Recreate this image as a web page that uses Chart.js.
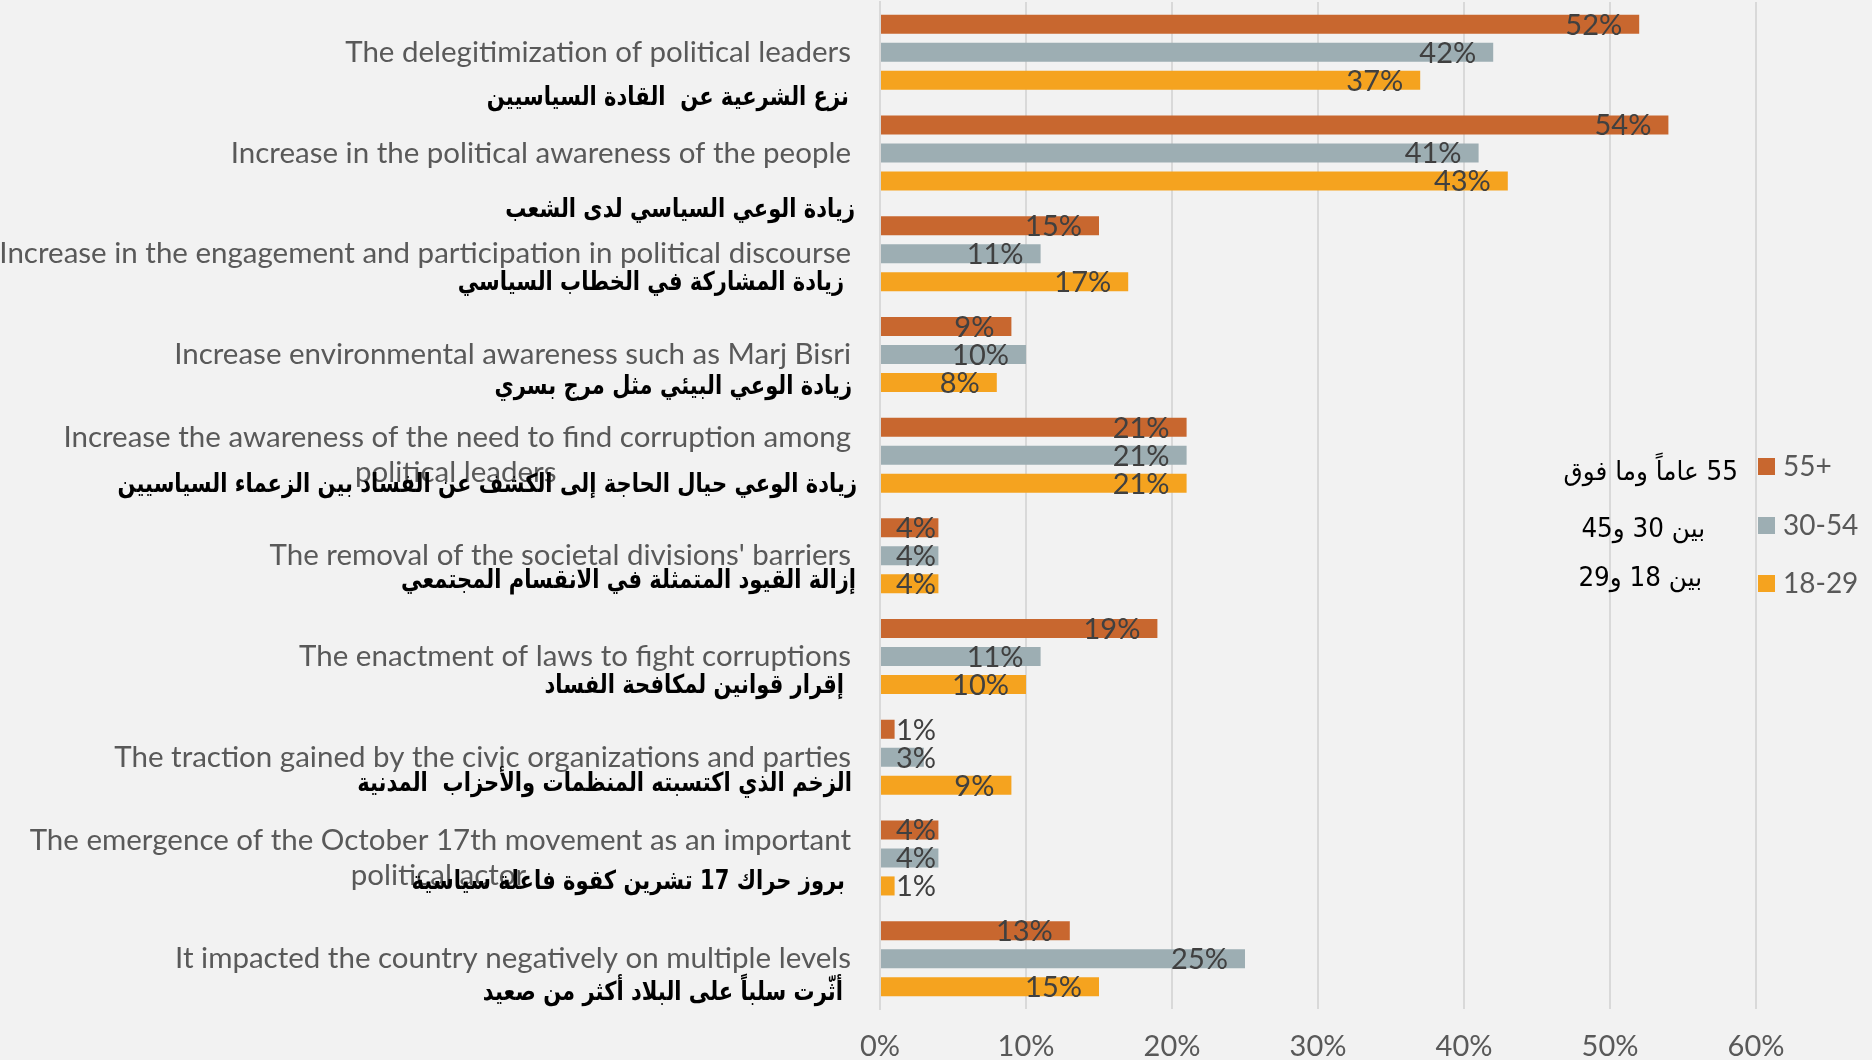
<!DOCTYPE html>
<html>
<head>
<meta charset="utf-8">
<script src="https://cdn.jsdelivr.net/npm/chart.js@4"></script>
<style>
    html, body { margin: 0; padding: 0; background: #f2f2f2; }
    canvas { display: block; }
</style>
</head>
<body>
<canvas id="effectsChart" width="1872" height="1060"></canvas>
<script>
// English category labels (arrays = wrapped lines, as in the original axis)
var categories = [
    'The delegitimization of political leaders',
    'Increase in the political awareness of the people',
    'Increase in the engagement and participation in political discourse',
    'Increase environmental awareness such as Marj Bisri',
    ['Increase the awareness of the need to find corruption among', 'political leaders'],
    "The removal of the societal divisions' barriers",
    'The enactment of laws to fight corruptions',
    'The traction gained by the civic organizations and parties',
    ['The emergence of the October 17th movement as an important', 'political actor'],
    'It impacted the country negatively on multiple levels'
];

var arabicLabels = [
    'نزع الشرعية عن  القادة السياسيين',
    'زيادة الوعي السياسي لدى الشعب',
    'زيادة المشاركة في الخطاب السياسي',
    'زيادة الوعي البيئي مثل مرج بسري',
    'زيادة الوعي حيال الحاجة إلى الكشف عن الفساد بين الزعماء السياسيين',
    'إزالة القيود المتمثلة في الانقسام المجتمعي',
    'إقرار قوانين لمكافحة الفساد',
    'الزخم الذي اكتسبته المنظمات والأحزاب  المدنية',
    'بروز حراك 17 تشرين كقوة فاعلة سياسية',
    'أثّرت سلباً على البلاد أكثر من صعيد'
];

var seriesNames = ['55+', '30-54', '18-29'];
var seriesArabic = ['55 عاماً وما فوق', 'بين 30 و45', 'بين 18 و29'];

var age55plus = [52, 54, 15, 9, 21, 4, 19, 1, 4, 13];
var age30to54 = [42, 41, 11, 10, 21, 4, 11, 3, 4, 25];
var age18to29 = [37, 43, 17, 8, 21, 4, 10, 9, 1, 15];

var xMax = 60;
var xStep = 10;

var colors = ['#c8672f', '#9daeb3', '#f5a31f'];
var catFont = '29.5px Lato';

// arabic caption placement: offset below category centre, right edge x
var arabicOffsets = [46, 57, 29, 33, 30, 25, 30, 27, 24, 35];
var arabicRight = [849, 855, 844, 852, 857, 856, 844, 852, 845, 843];

// wrapped lines are centred under the first line (excel style),
// so pad the shorter ones with trailing spaces
var measureCtx = document.createElement('canvas').getContext('2d');
function centreLines(label) {
    if (!Array.isArray(label)) return label;
    measureCtx.font = catFont;
    var full = Math.max.apply(null, label.map(function (l) { return measureCtx.measureText(l).width; }));
    var sp = measureCtx.measureText(' ').width;
    return label.map(function (l) {
        var n = Math.round((full - measureCtx.measureText(l).width) / 2 / sp);
        return l + new Array(n + 1).join(' ');
    });
}

var valueLabels = {
    id: 'valueLabels',
    afterDatasetsDraw: function (chart) {
        var ctx = chart.ctx;
        var x0 = chart.scales.x.getPixelForValue(0);
        ctx.save();
        ctx.font = '29px Lato';
        ctx.fillStyle = '#404040';
        ctx.textAlign = 'right';
        ctx.textBaseline = 'middle';
        chart.data.datasets.forEach(function (ds, i) {
            chart.getDatasetMeta(i).data.forEach(function (bar, j) {
                var txt = ds.data[j] + '%';
                var w = ctx.measureText(txt).width;
                var right = Math.max(bar.x - 17, x0 + 16 + w);
                ctx.fillText(txt, right, bar.y + 1);
            });
        });
        ctx.restore();
    }
};

var arabicCaptions = {
    id: 'arabicCaptions',
    afterDraw: function (chart) {
        var ctx = chart.ctx;
        var yScale = chart.scales.y;
        ctx.save();
        ctx.direction = 'rtl';
        ctx.textAlign = 'right';
        ctx.textBaseline = 'middle';
        ctx.fillStyle = '#000000';
        ctx.font = 'bold 26px "DejaVu Sans"';
        arabicLabels.forEach(function (txt, i) {
            var y = yScale.getPixelForValue(i) + arabicOffsets[i];
            var w = ctx.measureText(txt).width;
            ctx.fillText(txt, arabicRight[i], y, w * 0.81);
        });

        // legend
        var rows = [466, 525, 583];
        var arRight = [1738, 1705, 1702];
        var arDy = [7, 5, -4];
        seriesNames.forEach(function (name, i) {
            ctx.direction = 'ltr';
            ctx.fillStyle = colors[i];
            ctx.fillRect(1758, rows[i] - 8, 17, 17);
            ctx.fillStyle = '#595959';
            ctx.textAlign = 'left';
            ctx.font = '28px Lato';
            ctx.fillText(name, 1783, rows[i] + 1);
            ctx.direction = 'rtl';
            ctx.textAlign = 'right';
            ctx.fillStyle = '#000000';
            ctx.font = '26px "DejaVu Sans"';
            var w = ctx.measureText(seriesArabic[i]).width;
            ctx.fillText(seriesArabic[i], arRight[i], rows[i] + arDy[i], w * 0.95);
        });
        ctx.restore();
    }
};

new Chart(document.getElementById('effectsChart').getContext('2d'), {
    type: 'bar',
    data: {
        labels: categories.map(centreLines),
        datasets: [
            { label: seriesNames[0], data: age55plus, backgroundColor: colors[0] },
            { label: seriesNames[1], data: age30to54, backgroundColor: colors[1] },
            { label: seriesNames[2], data: age18to29, backgroundColor: colors[2] }
        ]
    },
    options: {
        indexAxis: 'y',
        responsive: false,
        animation: false,
        categoryPercentage: 0.834,
        barPercentage: 0.68,
        layout: { padding: { top: 2, right: 116, left: 0, bottom: 0 } },
        plugins: {
            legend: { display: false },
            tooltip: { enabled: false }
        },
        scales: {
            x: {
                min: 0,
                max: xMax,
                afterFit: function (scale) { scale.height = 51; },
                ticks: {
                    stepSize: xStep,
                    padding: 20,
                    color: '#595959',
                    font: { family: 'Lato', size: 29 },
                    callback: function (v) { return v + '%'; }
                },
                grid: { color: '#d9d9d9', lineWidth: 2, drawTicks: false },
                border: { display: false }
            },
            y: {
                afterFit: function (scale) {
                    scale.width = 880;
                    scale.paddingTop = 0;
                    scale.paddingBottom = 0;
                },
                ticks: {
                    autoSkip: false,
                    padding: 29,
                    color: '#595959',
                    font: { family: 'Lato', size: 29.5 }
                },
                grid: { display: false, drawTicks: false },
                border: { display: true, color: '#d9d9d9', width: 2 }
            }
        }
    },
    plugins: [valueLabels, arabicCaptions]
});
</script>
</body>
</html>
